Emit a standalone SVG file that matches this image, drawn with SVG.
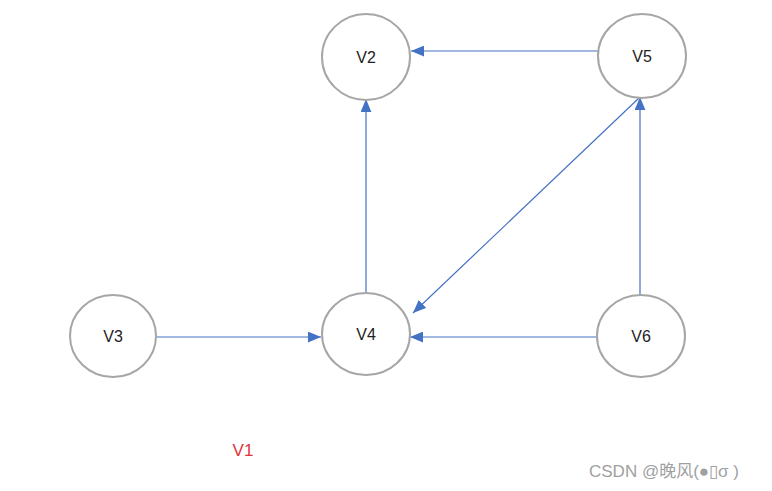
<svg xmlns="http://www.w3.org/2000/svg" width="772" height="491" viewBox="0 0 772 491">
<defs>
<style>
.node ellipse{fill:#fff;stroke:#a6a6a6;stroke-width:2}
.node text{font-family:"Liberation Sans",Arial,sans-serif;font-size:16px;fill:#222;text-anchor:middle;dominant-baseline:central}
.edge{stroke:#4472c4;stroke-width:1.2;fill:none;marker-end:url(#arr)}
</style>
<marker id="arr" viewBox="0 0 12 10" refX="12" refY="5" markerWidth="13" markerHeight="11" markerUnits="userSpaceOnUse" orient="auto">
<path d="M0,0 L12,5 L0,10 Z" fill="#4472c4"/>
</marker>
</defs>
<rect width="772" height="491" fill="#fff"/>
<g id="edges">
<line class="edge" x1="598" y1="51" x2="411" y2="51"/>
<line class="edge" x1="366" y1="293" x2="366" y2="99"/>
<line class="edge" x1="639" y1="98" x2="413" y2="313"/>
<line class="edge" x1="640" y1="295" x2="640" y2="97"/>
<line class="edge" x1="157" y1="337" x2="321" y2="337"/>
<line class="edge" x1="597" y1="337" x2="410" y2="337"/>
</g>
<g id="V2" class="node"><ellipse cx="366" cy="57" rx="44" ry="43"/><text x="366" y="57">V2</text></g>
<g id="V5" class="node"><ellipse cx="642" cy="56" rx="44" ry="42"/><text x="642" y="56">V5</text></g>
<g id="V4" class="node"><ellipse cx="366" cy="334" rx="44" ry="41"/><text x="366" y="334">V4</text></g>
<g id="V6" class="node"><ellipse cx="641" cy="336" rx="44" ry="41"/><text x="641" y="336">V6</text></g>
<g id="V3" class="node"><ellipse cx="113" cy="336" rx="43" ry="41"/><text x="113" y="336">V3</text></g>
<text x="243" y="450" font-family="Liberation Sans,Arial,sans-serif" font-size="17" fill="#e0353a" text-anchor="middle" dominant-baseline="central">V1</text>
<text x="589" y="471" font-family="Liberation Sans,'Noto Sans CJK SC',sans-serif" font-size="17" fill="#a0a0a0" dominant-baseline="central">CSDN @晚风(●▯σ )</text>
</svg>
